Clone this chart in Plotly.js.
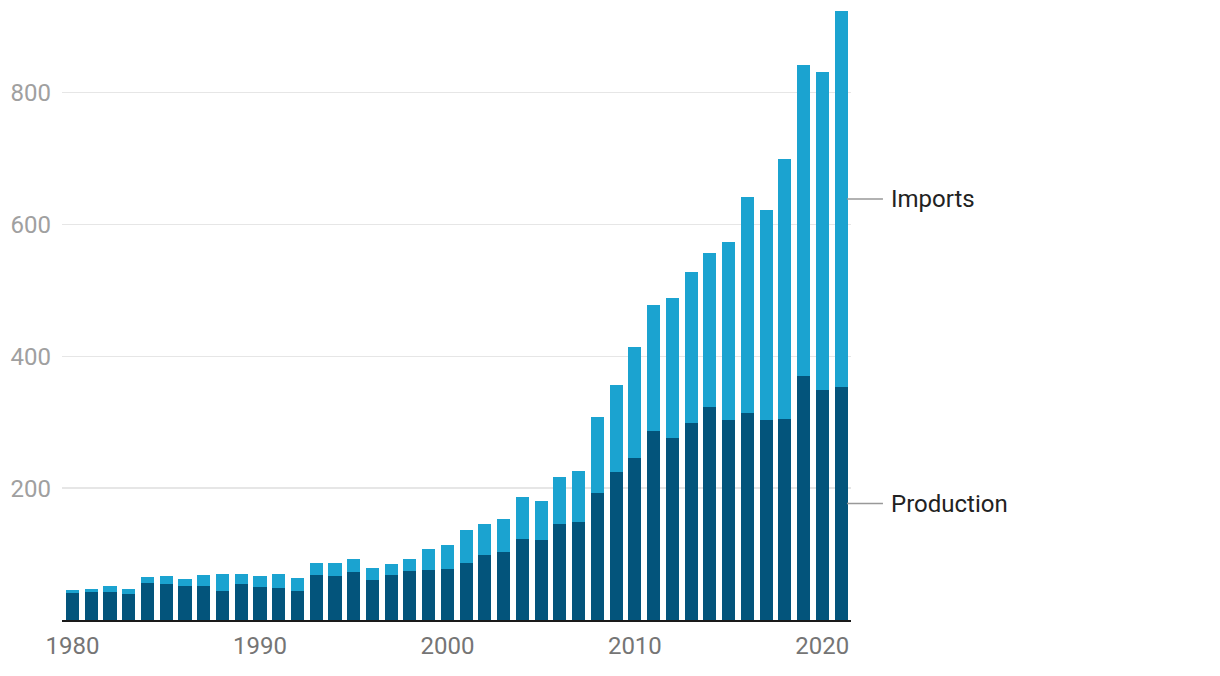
<!DOCTYPE html>
<html>
<head>
<meta charset="utf-8">
<script src="https://cdn.plot.ly/plotly-3.0.1.min.js"></script>
<style>html,body{margin:0;padding:0;background:#fff;}#chart{width:1220px;height:676px;}</style>
</head>
<body>
<div id="chart"></div>
<script>
const years = [1980,1981,1982,1983,1984,1985,1986,1987,1988,1989,
  1990,1991,1992,1993,1994,1995,1996,1997,1998,1999,
  2000,2001,2002,2003,2004,2005,2006,2007,2008,2009,
  2010,2011,2012,2013,2014,2015,2016,2017,2018,2019,2020,2021];
const production = [41.4,42.9,42.9,39.8,56.5,55,52,52,44.4,55,
  50.5,48.9,44.4,68.6,67.1,73.2,61.1,68.6,74.7,76.2,
  77.7,86.8,98.9,103.5,123.2,121.7,145.9,148.9,193,224.7,
  245.9,286.8,276.2,299,323.2,303.5,314,303.5,305,370.2,349,353.5];
const imports = [4.5,4.5,9.1,7.6,9.1,12.1,10.6,16.6,25.8,15.2,
  16.6,21.3,19.7,18.2,19.7,19.7,18.1,16.7,18.2,31.8,
  36.3,50,47,50,63.6,59.1,71.2,77.3,115,131.8,
  168.1,191.2,212.4,228.7,233.3,269.7,327.4,318.2,394,471.2,481.8,570.5];
const xTickVals = [1980,1990,2000,2010,2020];
const xTickText = ['1980','1990','2000','2010','2020'];
const yTickVals = [200,400,600,800];
const yTickText = ['200','400','600','800'];
const seriesNames = ['Production','Imports'];

const cProd = '#03547b';
const cImp = '#1ba3d0';

const traces = [
  {type:'bar', x:years, y:production, name:seriesNames[0], marker:{color:cProd}},
  {type:'bar', x:years, y:imports, name:seriesNames[1], marker:{color:cImp}}
];

const last = years.length - 1;
const yProdMid = production[last] / 2;
const yImpMid = production[last] + imports[last] / 2;

const shapes = [yImpMid, yProdMid].map(v => ({
  type:'line', xref:'paper', yref:'y', x0:0.995, x1:1.0405, y0:v, y1:v,
  line:{color:'#999999', width:1.5}
}));
const annotations = [
  {text:seriesNames[1], y:yImpMid},
  {text:seriesNames[0], y:yProdMid}
].map(a => ({
  text:a.text, xref:'paper', yref:'y', x:1.0485, y:a.y, xanchor:'left', yanchor:'middle',
  showarrow:false, font:{family:'Roboto', size:24, color:'#222222'}
}));

const layout = {
  width:1220, height:676,
  margin:{l:62, r:369, t:7, b:56, pad:0},
  paper_bgcolor:'#ffffff', plot_bgcolor:'#ffffff',
  barmode:'stack', bargap:0.3,
  showlegend:false, hovermode:false,
  font:{family:'Roboto'},
  xaxis:{
    range:[1979.44, 2021.53], tickvals:xTickVals, ticktext:xTickText,
    showgrid:false, zeroline:false, showline:true, linecolor:'#1a1a1a', linewidth:2,
    ticks:'', tickfont:{family:'Roboto', size:24, color:'#757575'}, ticklabelstandoff:3
  },
  yaxis:{
    range:[0, 930], tickvals:yTickVals, ticktext:yTickText,
    showgrid:true, gridcolor:'#e6e6e6', gridwidth:1.5, zeroline:false, showline:false,
    ticks:'', tickfont:{family:'Roboto', size:24, color:'#a0a0a0'}, ticklabelstandoff:10
  },
  shapes:shapes,
  annotations:annotations
};

Plotly.newPlot('chart', traces, layout, {staticPlot:true, displayModeBar:false});
</script>
</body>
</html>
